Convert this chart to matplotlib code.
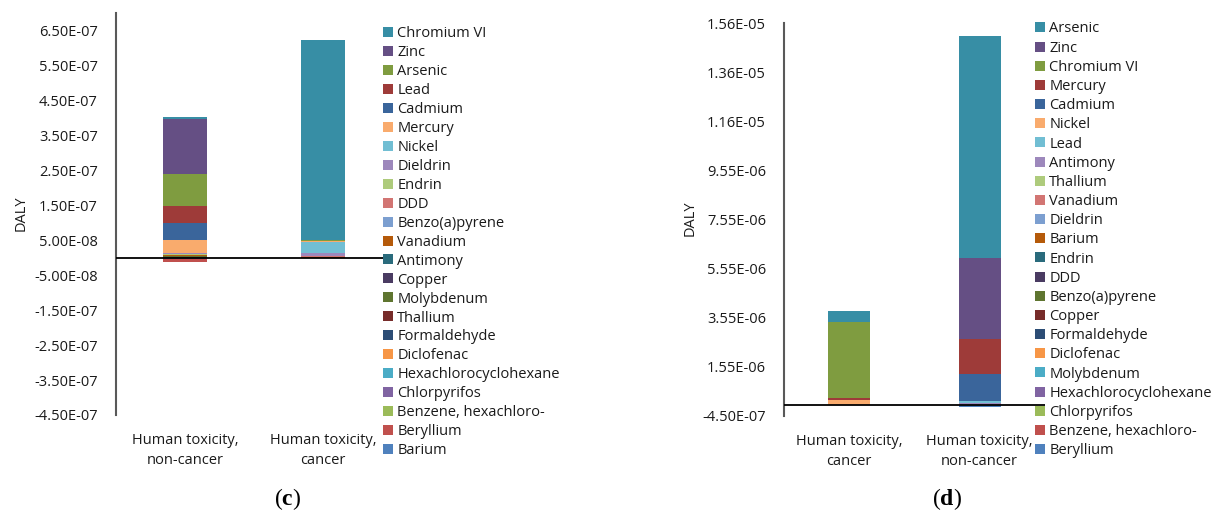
import matplotlib.pyplot as plt
import numpy as np
from matplotlib.patches import Patch

plt.rcParams['font.family'] = ['Open Sans', 'DejaVu Sans']
plt.rcParams['mathtext.fontset'] = 'custom'
plt.rcParams['mathtext.rm'] = 'Liberation Serif'
plt.rcParams['mathtext.bf'] = 'Liberation Serif:bold'

# ---- данные панели (c) ----
c_categories = ['Human toxicity,\nnon-cancer', 'Human toxicity,\ncancer']
c_series = ['Chromium VI', 'Zinc', 'Arsenic', 'Lead', 'Cadmium', 'Mercury', 'Nickel',
            'Dieldrin', 'Endrin', 'DDD', 'Benzo(a)pyrene', 'Vanadium', 'Antimony',
            'Copper', 'Molybdenum', 'Thallium', 'Formaldehyde', 'Diclofenac',
            'Hexachlorocyclohexane', 'Chlorpyrifos', 'Benzene, hexachloro-',
            'Beryllium', 'Barium']
# значения по категориям: [non-cancer, cancer]
c_values = [
    [5e-9, 5.71e-7],     # Chromium VI
    [1.58e-7, 0],        # Zinc
    [9.3e-8, 3e-9],      # Arsenic
    [4.7e-8, 0],         # Lead
    [4.9e-8, 0],         # Cadmium
    [3.7e-8, 4e-9],      # Mercury
    [0, 3.1e-8],         # Nickel
    [3.5e-9, 7.7e-9],    # Dieldrin
    [3e-9, 0],           # Endrin
    [0, 4e-9],           # DDD
    [0, 0],              # Benzo(a)pyrene
    [1.5e-9, 2e-9],      # Vanadium
    [1e-9, 0],           # Antimony
    [1.5e-9, 0],         # Copper
    [2e-9, 0],           # Molybdenum
    [1.5e-9, 0],         # Thallium
    [0, 0],              # Formaldehyde
    [0, 0],              # Diclofenac
    [0, 0],              # Hexachlorocyclohexane
    [0, 0],              # Chlorpyrifos
    [0, 0],              # Benzene, hexachloro-
    [-6e-9, 0],          # Beryllium
    [-5e-9, 0],          # Barium
]
c_ticks = [-4.5e-7, -3.5e-7, -2.5e-7, -1.5e-7, -5e-8, 5e-8, 1.5e-7, 2.5e-7,
           3.5e-7, 4.5e-7, 5.5e-7, 6.5e-7]
c_ticklabels = ['-4.50E-07', '-3.50E-07', '-2.50E-07', '-1.50E-07', '-5.00E-08',
                '5.00E-08', '1.50E-07', '2.50E-07', '3.50E-07', '4.50E-07',
                '5.50E-07', '6.50E-07']

# ---- данные панели (d) ----
d_categories = ['Human toxicity,\ncancer', 'Human toxicity,\nnon-cancer']
d_series = ['Arsenic', 'Zinc', 'Chromium VI', 'Mercury', 'Cadmium', 'Nickel', 'Lead',
            'Antimony', 'Thallium', 'Vanadium', 'Dieldrin', 'Barium', 'Endrin', 'DDD',
            'Benzo(a)pyrene', 'Copper', 'Formaldehyde', 'Diclofenac', 'Molybdenum',
            'Hexachlorocyclohexane', 'Chlorpyrifos', 'Benzene, hexachloro-', 'Beryllium']
# значения по категориям: [cancer, non-cancer]
d_values = [
    [4.8e-7, 9.02e-6],   # Arsenic
    [0, 3.32e-6],        # Zinc
    [3.10e-6, 0],        # Chromium VI
    [6.5e-8, 1.44e-6],   # Mercury
    [0, 1.09e-6],        # Cadmium
    [1.9e-7, 0],         # Nickel
    [0, 7e-8],           # Lead
    [0, 8e-8],           # Antimony
    [0, 0], [0, 0], [0, 0], [0, 0], [0, 0], [0, 0], [0, 0], [0, 0],
    [0, 0], [0, 0], [0, 0], [0, 0], [0, 0], [0, 0],
    [0, -1.1e-7],        # Beryllium
]
d_ticks = [-4.5e-7, 1.55e-6, 3.55e-6, 5.55e-6, 7.55e-6, 9.55e-6, 1.155e-5, 1.355e-5, 1.555e-5]
d_ticklabels = ['-4.50E-07', '1.55E-06', '3.55E-06', '5.55E-06', '7.55E-06', '9.55E-06',
                '1.16E-05', '1.36E-05', '1.56E-05']

# Цвета Excel по позиции серии в легенде (сверху вниз)
palette = ['#378EA5', '#654F84', '#7F9C40', '#9E3B39', '#3A659B', '#F9AB6D', '#71BED3',
           '#9D88BC', '#AECB7C', '#D27573', '#7C9FD0', '#B55A0A', '#2A6B7C', '#4A3B62',
           '#5F7530', '#772C2A', '#2C4D75', '#F79646', '#4BACC6', '#8064A2', '#9BBB59',
           '#C0504D', '#4F81BD']

TEXT = '#1a1a1a'
FS = 10.5


def draw_panel(fig, rect, categories, series, values, ticks, ticklabels, ylim,
               legend_xy, spacing, ylabel_xy, panel_xy, panel_label, width):
    ax = fig.add_axes(rect)
    x = np.arange(len(categories))
    pos_bottom = np.zeros(len(categories))
    neg_bottom = np.zeros(len(categories))
    # Excel: первая серия внизу стека, легенда в обратном порядке
    for i in reversed(range(len(series))):
        vals = np.array(values[i], dtype=float)
        bottoms = np.where(vals >= 0, pos_bottom, neg_bottom)
        ax.bar(x, vals, width=width, bottom=bottoms, color=palette[i], linewidth=0)
        pos_bottom += np.clip(vals, 0, None)
        neg_bottom += np.clip(vals, None, 0)

    ax.axhline(0, color='black', linewidth=1.3, zorder=3)
    ax.set_xlim(-0.5, len(categories) - 0.5)
    ax.set_ylim(*ylim)
    ax.set_yticks(ticks)
    ax.set_yticklabels(ticklabels, fontsize=FS, color=TEXT)
    ax.set_xticks(x)
    ax.set_xticklabels(categories, fontsize=FS, color=TEXT, linespacing=1.45)
    ax.tick_params(axis='y', length=0, pad=13)
    ax.tick_params(axis='x', length=0, pad=13)
    for s in ['top', 'right', 'bottom']:
        ax.spines[s].set_visible(False)
    ax.spines['left'].set_color('#595959')
    ax.spines['left'].set_linewidth(1.5)

    handles = [Patch(facecolor=palette[i], edgecolor='none') for i in range(len(series))]
    fig.legend(handles, series, loc='upper left', bbox_to_anchor=legend_xy,
               frameon=False, fontsize=FS, handlelength=0.68, handleheight=0.68,
               handletextpad=0.3, labelspacing=spacing, borderpad=0, borderaxespad=0,
               labelcolor=TEXT)

    fig.text(ylabel_xy[0], ylabel_xy[1], 'DALY', rotation=90, ha='center', va='center',
             fontsize=10.5, color=TEXT)
    fig.text(panel_xy[0], panel_xy[1], r'$\mathrm{(}\mathbf{' + panel_label + r'}\mathrm{)}$',
             ha='center', va='center', fontsize=17, color='black')
    return ax


W, H = 1213, 512
fig = plt.figure(figsize=(W / 100, H / 100), dpi=100)

draw_panel(fig, [116 / W, 1 - 415 / H, 276 / W, 402 / H], c_categories, c_series, c_values,
           c_ticks, c_ticklabels, (-4.5e-7, 7.0e-7), (383 / W, 1 - 26 / H), 0.272,
           (21 / W, 1 - 213 / H), (288 / W, 1 - 499 / H), 'c', 0.32)

draw_panel(fig, [784 / W, 1 - 415.7 / H, 261 / W, 392.4 / H], d_categories, d_series, d_values,
           d_ticks, d_ticklabels, (-4.5e-7, 1.555e-5), (1035 / W, 1 - 21.5 / H), 0.286,
           (690 / W, 1 - 218 / H), (947 / W, 1 - 499 / H), 'd', 0.32)

fig.savefig('out.png', dpi=100)
